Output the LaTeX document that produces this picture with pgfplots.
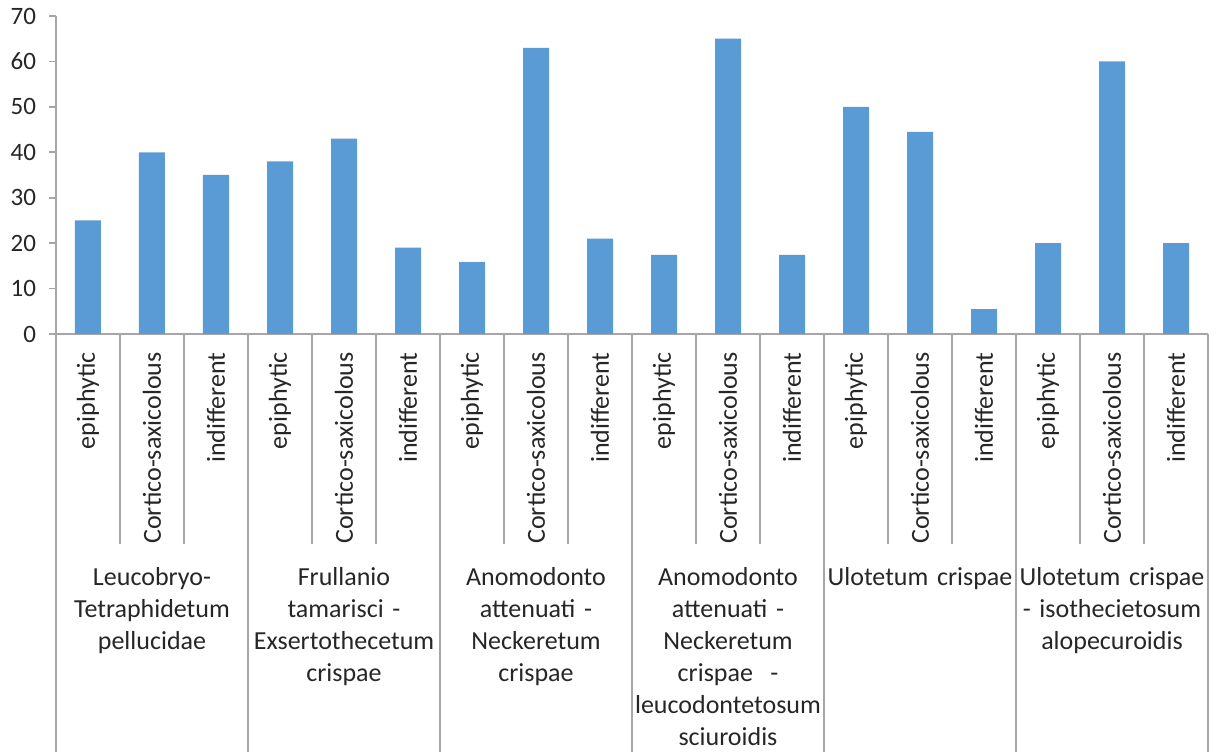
\documentclass[border=0pt]{standalone}
\usepackage{pgfplots}
\pgfplotsset{compat=1.18}
\usepackage{fontspec}
\setmainfont{Carlito}
\definecolor{barblue}{HTML}{5B9BD5}
\definecolor{axisgray}{HTML}{A6A6A6}
\definecolor{txt}{HTML}{262626}

\pgfplotstableread{
x  share
0  25
1  40
2  35
3  38
4  43
5  19
6  15.8
7  63
8  21
9  17.4
10 65
11 17.4
12 50
13 44.5
14 5.5
15 20
16 60
17 20
}\sharetable

\begin{document}
\begin{tikzpicture}[
  grp/.style={text width=100pt, align=center, anchor=base, inner sep=0pt,
    font=\fontsize{13}{16}\selectfont, text=txt}]
\begin{axis}[
  name=ax,
  scale only axis, width=576pt, height=159pt,
  xmin=-0.5, xmax=17.5, ymin=0, ymax=70,
  axis x line*=bottom, axis y line*=left,
  axis line style={axisgray, line width=0.8pt},
  ytick={0,10,...,70},
  tick align=outside, major tick length=3.5pt,
  ytick style={axisgray, line width=0.8pt},
  xtick={0,...,17},
  xtick style={draw=none},
  xticklabels={epiphytic,Cortico-saxicolous,indifferent,
               epiphytic,Cortico-saxicolous,indifferent,
               epiphytic,Cortico-saxicolous,indifferent,
               epiphytic,Cortico-saxicolous,indifferent,
               epiphytic,Cortico-saxicolous,indifferent,
               epiphytic,Cortico-saxicolous,indifferent},
  xticklabel style={rotate=90, anchor=east, inner sep=0pt,
    font=\fontsize{13}{16}\selectfont},
  xticklabel shift=5.5pt,
  yticklabel style={xshift=-3pt, font=\fontsize{12.5}{15}\selectfont},
  ticklabel style={text=txt},
  /pgf/number format/assume math mode=true,
  clip=false,
]
\addplot[ybar, bar width=13pt, fill=barblue, draw=none] table[x=x, y=share] {\sharetable};

% separators between the sub-categories
\pgfplotsinvokeforeach{0.5,1.5,3.5,4.5,6.5,7.5,9.5,10.5,12.5,13.5,15.5,16.5}{
  \draw[axisgray, line width=0.8pt] (axis cs:#1,0) -- ([yshift=-105pt]axis cs:#1,0);
}
% separators between the associations
\pgfplotsinvokeforeach{-0.5,2.5,5.5,8.5,11.5,14.5,17.5}{
  \draw[axisgray, line width=0.8pt] (axis cs:#1,0) -- ([yshift=-209pt]axis cs:#1,0);
}

\node[grp] at ([yshift=-125.5pt]axis cs:1,0) {Leucobryo-\\Tetraphidetum\\pellucidae};
\node[grp] at ([yshift=-125.5pt]axis cs:4,0) {Frullanio\\tamarisci -\\Exsertothecetum\\crispae};
\node[grp] at ([yshift=-125.5pt]axis cs:7,0) {Anomodonto\\attenuati -\\Neckeretum\\crispae};
\node[grp] at ([yshift=-125.5pt]axis cs:10,0) {Anomodonto\\attenuati -\\Neckeretum\\crispae\ \ -\\leucodontetosum\\sciuroidis};
\node[grp] at ([yshift=-125.5pt]axis cs:13,0) {Ulotetum crispae};
\node[grp] at ([yshift=-125.5pt]axis cs:16,0) {Ulotetum crispae\\- isothecietosum\\alopecuroidis};
\end{axis}
\path ([shift={(-28pt,-210pt)}]ax.south west) rectangle ([shift={(4.5pt,8pt)}]ax.north east);
\end{tikzpicture}
\end{document}
